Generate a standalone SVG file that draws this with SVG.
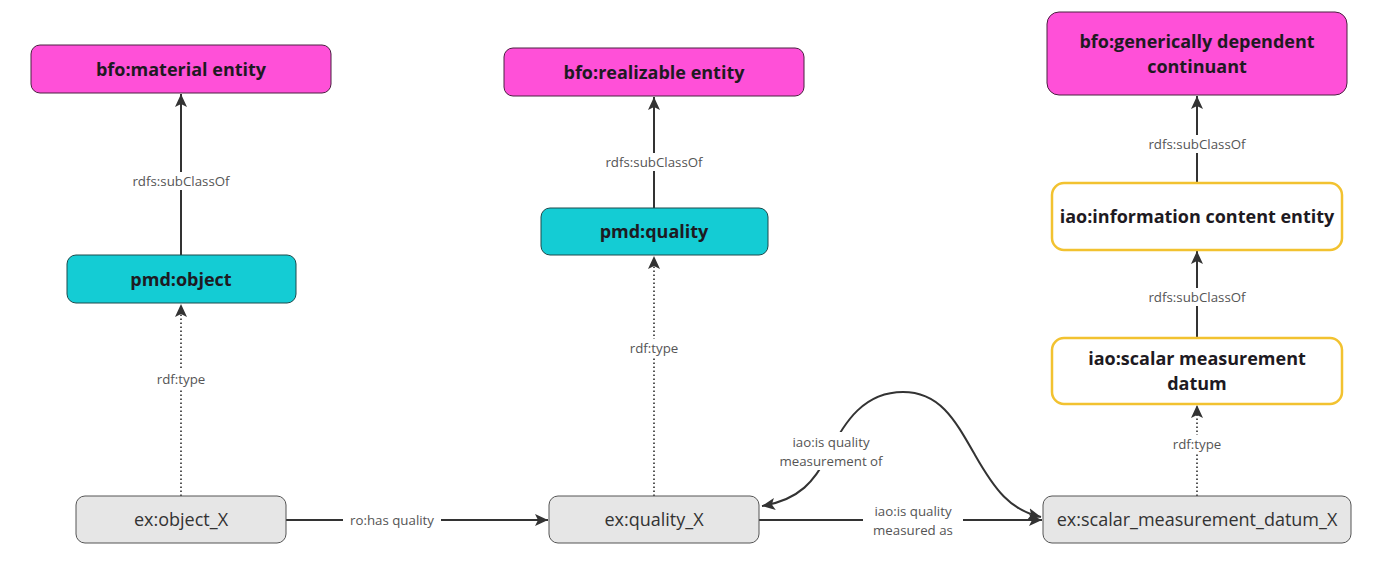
<svg xmlns="http://www.w3.org/2000/svg" width="1373" height="569" viewBox="0 0 1373 569">
<defs>
<marker id="arr" markerUnits="userSpaceOnUse" markerWidth="14" markerHeight="14" viewBox="0 0 14 14" refX="13" refY="7" orient="auto-start-reverse">
<path d="M0,1 L13,7 L0,13 L3,7 Z" fill="#333"/>
</marker>
</defs>
<style>
.bfo{fill:#FF50D8;stroke:#4a2040;stroke-width:1}
.pmd{fill:#14CCD4;stroke:#1d4a4c;stroke-width:1}
.iao{fill:#fff;stroke:#F2C230;stroke-width:2.5}
.ex{fill:#E6E6E6;stroke:#555;stroke-width:1}
.t{font-family:"Open Sans","Noto Sans",sans-serif;font-weight:bold;font-size:18px;fill:#1e1a22;text-anchor:middle}
.tx{font-family:"Open Sans","Noto Sans",sans-serif;font-size:18px;fill:#333;text-anchor:middle}
.e{stroke:#333;stroke-width:2;fill:none}
.d{stroke:#444;stroke-width:1.8;fill:none;stroke-dasharray:1.5 2.5}
.l{font-family:"Open Sans","Noto Sans",sans-serif;font-size:13.3px;fill:#555;text-anchor:middle}
.bg{fill:#fff}
</style>
<g id="connectors">
<line class="e" x1="181" y1="255" x2="181" y2="94" marker-end="url(#arr)"/>
<line class="d" x1="181" y1="496" x2="181" y2="304" marker-end="url(#arr)"/>
<line class="e" x1="654" y1="208" x2="654" y2="97" marker-end="url(#arr)"/>
<line class="d" x1="654" y1="496" x2="654" y2="256" marker-end="url(#arr)"/>
<line class="e" x1="1197" y1="183" x2="1197" y2="96" marker-end="url(#arr)"/>
<line class="e" x1="1197" y1="338" x2="1197" y2="251" marker-end="url(#arr)"/>
<line class="d" x1="1197" y1="496" x2="1197" y2="405" marker-end="url(#arr)"/>
<line class="e" x1="286" y1="520" x2="548" y2="520" marker-end="url(#arr)"/>
<line class="e" x1="759" y1="520" x2="1042" y2="520" marker-end="url(#arr)"/>
<path class="e" d="M762,506 C800,500 815,480 828,455 C845,420 865,392 903,392 C940,392 955,420 975,455 C995,490 1010,510 1041,517" marker-start="url(#arr)" marker-end="url(#arr)"/>
<rect class="bg" x="129" y="172" width="104" height="18"/>
<text class="l" x="181" y="186">rdfs:subClassOf</text>
<rect class="bg" x="151" y="370" width="60" height="18"/>
<text class="l" x="181" y="384">rdf:type</text>
<rect class="bg" x="602" y="153" width="104" height="18"/>
<text class="l" x="654" y="167">rdfs:subClassOf</text>
<rect class="bg" x="624" y="339" width="60" height="18"/>
<text class="l" x="654" y="353">rdf:type</text>
<rect class="bg" x="1145" y="135" width="104" height="18"/>
<text class="l" x="1197" y="149">rdfs:subClassOf</text>
<rect class="bg" x="1145" y="288" width="104" height="18"/>
<text class="l" x="1197" y="302">rdfs:subClassOf</text>
<rect class="bg" x="1167" y="435" width="60" height="18"/>
<text class="l" x="1197" y="449">rdf:type</text>
<rect class="bg" x="343" y="511" width="98" height="18"/>
<text class="l" x="392" y="525">ro:has quality</text>
<rect class="bg" x="863" y="502" width="100" height="38"/>
<text class="l" x="913" y="516">iao:is quality</text>
<text class="l" x="913" y="535">measured as</text>
<rect class="bg" x="777" y="432" width="108" height="38"/>
<text class="l" x="831" y="447">iao:is quality</text>
<text class="l" x="831" y="466">measurement of</text>
</g>
<g id="n-material">
<rect class="bfo" x="31" y="45" width="300" height="48" rx="9"/>
<text class="t" x="181" y="76">bfo:material entity</text>
</g>
<g id="n-realizable">
<rect class="bfo" x="504" y="48" width="300" height="48" rx="9"/>
<text class="t" x="654" y="79">bfo:realizable entity</text>
</g>
<g id="n-gdc">
<rect class="bfo" x="1047" y="12" width="300" height="83" rx="12"/>
<text class="t" x="1197" y="48">bfo:generically dependent</text>
<text class="t" x="1197" y="73">continuant</text>
</g>
<g id="n-object">
<rect class="pmd" x="67" y="255" width="229" height="48" rx="9"/>
<text class="t" x="181" y="286">pmd:object</text>
</g>
<g id="n-quality">
<rect class="pmd" x="541" y="208" width="227" height="47" rx="9"/>
<text class="t" x="654" y="238">pmd:quality</text>
</g>
<g id="n-ice">
<rect class="iao" x="1052" y="183" width="290" height="67" rx="12"/>
<text class="t" x="1197" y="223">iao:information content entity</text>
</g>
<g id="n-smd">
<rect class="iao" x="1052" y="338" width="290" height="66" rx="12"/>
<text class="t" x="1197" y="365">iao:scalar measurement</text>
<text class="t" x="1197" y="390">datum</text>
</g>
<g id="n-objectX">
<rect class="ex" x="76" y="496" width="210" height="47" rx="9"/>
<text class="tx" x="181" y="526">ex:object_X</text>
</g>
<g id="n-qualityX">
<rect class="ex" x="549" y="496" width="210" height="47" rx="9"/>
<text class="tx" x="654" y="526">ex:quality_X</text>
</g>
<g id="n-smdX">
<rect class="ex" x="1043" y="496" width="308" height="47" rx="9"/>
<text class="tx" x="1197" y="526">ex:scalar_measurement_datum_X</text>
</g>
</svg>
